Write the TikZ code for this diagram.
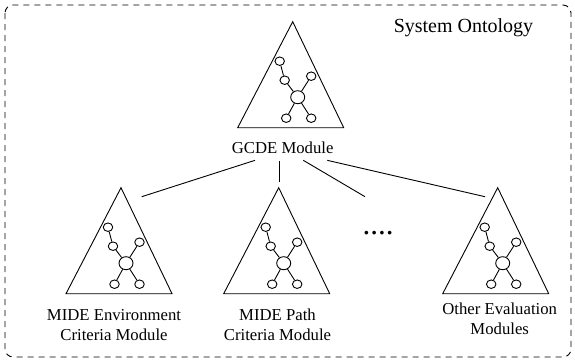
\documentclass[tikz,border=0pt]{standalone}
\usepackage{fontspec}
\setmainfont{Liberation Serif}
\newfontfamily\labelfont{Liberation Serif}
\usetikzlibrary{shapes.geometric}

\tikzset{
  vertex/.style={draw, ellipse, fill=white, inner sep=0pt, minimum width=9.5pt, minimum height=8.5pt},
  hub/.style={draw, ellipse, fill=white, inner sep=0pt, minimum width=14pt, minimum height=13pt},
  caption/.style={align=center, inner sep=0pt, font=\labelfont\fontsize{16.7}{20}\selectfont},
  module/.pic={
    \draw (0,0) -- (-55,106) -- (51,106) -- cycle;
    \node[vertex] (-n1) at (-13,39.5) {};
    \node[vertex] (-n2) at (-8,58.5) {};
    \node[vertex] (-n3) at (18.5,54.5) {};
    \node[hub]    (-c)  at (5,75.5) {};
    \node[vertex] (-n4) at (-6.5,96.5) {};
    \node[vertex] (-n5) at (18.5,96.5) {};
    \draw (-n1) -- (-n2) -- (-c) -- (-n3);
    \draw (-c) -- (-n4);
    \draw (-c) -- (-n5);
  }
}

\begin{document}
\begin{tikzpicture}[x=1pt, y=-1pt, line width=0.9pt]
  \useasboundingbox (0,0) rectangle (575,362);
  % Frame
  \draw[dashed, dash pattern=on 6pt off 5pt, rounded corners=8pt] (5,5) rectangle (571,357);
  \node[font=\labelfont\fontsize{20}{24}\selectfont] (title) at (463.5,28) {System Ontology};
  % Modules
  \pic (gcdeTri) at (292.7,21.7) {module};
  \pic (envTri) at (121,187.7) {module};
  \pic (pathTri) at (278.7,187.7) {module};
  \pic (otherTri) at (497.7,187.7) {module};
  % Labels
  \node[caption] (gcde) at (282.7,148) {GCDE Module};
  \node[caption] (env) at (114,325) {MIDE Environment\\Criteria Module};
  \node[caption] (path) at (277.5,325) {MIDE Path\\Criteria Module};
  \node[caption] (other) at (499.7,318.3) {Other Evaluation\\Modules};
  \node[font=\labelfont\fontsize{31}{31}\selectfont, anchor=base, inner sep=0pt] (dots) at (378,234.5) {....};
  % Connect modules
  \coordinate (envEnd) at (141.7,196.7);
  \coordinate (pathEnd) at (279.7,182);
  \coordinate (dotsEnd) at (365,196.7);
  \coordinate (otherEnd) at (485,196.7);
  \draw ([xshift=-27.7pt, yshift=-6pt]gcde.south) -- (envEnd);
  \draw ([xshift=-3pt, yshift=-7pt]gcde.south) -- (pathEnd);
  \draw ([xshift=20.6pt, yshift=-6pt]gcde.south) -- (dotsEnd);
  \draw ([xshift=44.6pt, yshift=-6pt]gcde.south) -- (otherEnd);
\end{tikzpicture}
\end{document}
